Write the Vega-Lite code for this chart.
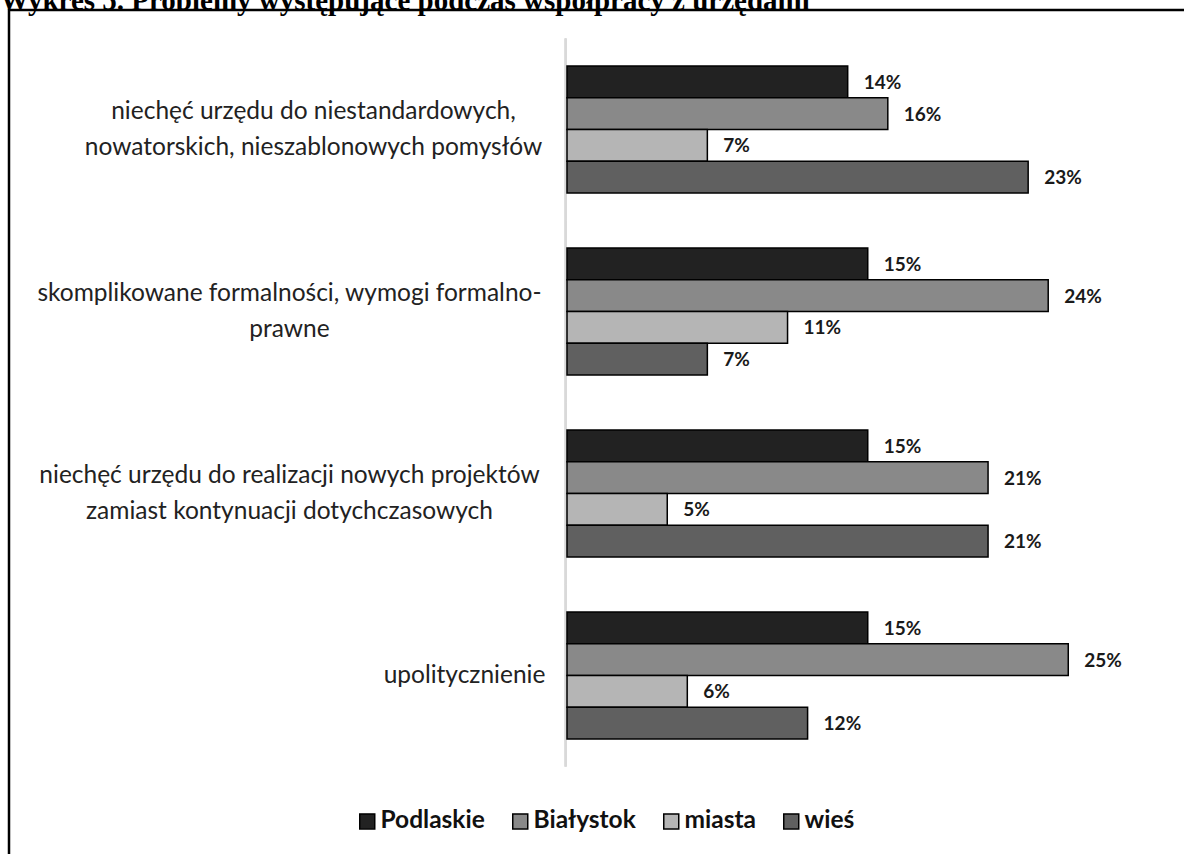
{
  "$schema": "https://vega.github.io/schema/vega-lite/v6.json",
  "width": 1195,
  "height": 864,
  "autosize": {"type": "none"},
  "padding": {"left": 9, "top": 10, "right": -20, "bottom": -20},
  "background": "white",
  "title": {
    "text": "Wykres 5. Problemy występujące podczas współpracy z urzędami",
    "anchor": "start",
    "frame": "group",
    "font": "Liberation Serif",
    "fontSize": 29,
    "fontWeight": "bold",
    "color": "black",
    "baseline": "alphabetic",
    "dx": -9,
    "offset": -29
  },
  "config": {
    "view": {"stroke": "black", "strokeWidth": 2.5},
    "font": "Lato"
  },
  "data": {
    "values": [
      {"cat": "niechęć urzędu do niestandardowych,|nowatorskich, nieszablonowych pomysłów", "series": "Podlaskie", "value": 0.14},
      {"cat": "niechęć urzędu do niestandardowych,|nowatorskich, nieszablonowych pomysłów", "series": "Białystok", "value": 0.16},
      {"cat": "niechęć urzędu do niestandardowych,|nowatorskich, nieszablonowych pomysłów", "series": "miasta", "value": 0.07},
      {"cat": "niechęć urzędu do niestandardowych,|nowatorskich, nieszablonowych pomysłów", "series": "wieś", "value": 0.23},
      {"cat": "skomplikowane formalności, wymogi formalno-|prawne", "series": "Podlaskie", "value": 0.15},
      {"cat": "skomplikowane formalności, wymogi formalno-|prawne", "series": "Białystok", "value": 0.24},
      {"cat": "skomplikowane formalności, wymogi formalno-|prawne", "series": "miasta", "value": 0.11},
      {"cat": "skomplikowane formalności, wymogi formalno-|prawne", "series": "wieś", "value": 0.07},
      {"cat": "niechęć urzędu do realizacji nowych projektów|zamiast kontynuacji dotychczasowych", "series": "Podlaskie", "value": 0.15},
      {"cat": "niechęć urzędu do realizacji nowych projektów|zamiast kontynuacji dotychczasowych", "series": "Białystok", "value": 0.21},
      {"cat": "niechęć urzędu do realizacji nowych projektów|zamiast kontynuacji dotychczasowych", "series": "miasta", "value": 0.05},
      {"cat": "niechęć urzędu do realizacji nowych projektów|zamiast kontynuacji dotychczasowych", "series": "wieś", "value": 0.21},
      {"cat": "upolitycznienie", "series": "Podlaskie", "value": 0.15},
      {"cat": "upolitycznienie", "series": "Białystok", "value": 0.25},
      {"cat": "upolitycznienie", "series": "miasta", "value": 0.06},
      {"cat": "upolitycznienie", "series": "wieś", "value": 0.12}
    ]
  },
  "encoding": {
    "y": {
      "field": "cat",
      "type": "nominal",
      "sort": null,
      "scale": {"paddingInner": 0.302, "paddingOuter": 0.5247, "align": 0.2933},
      "axis": {
        "title": null,
        "domain": false,
        "ticks": false,
        "tickSize": 0,
        "labelAlign": "center",
        "labelBaseline": "middle",
        "labelFont": "Lato",
        "labelFontSize": 24.5,
        "labelColor": "#222222",
        "labelLineHeight": 36,
        "labelLimit": 0,
        "labelBound": false,
        "labelExpr": "split(datum.value, '|')",
        "labelOffset": {
          "condition": {"test": "indexof(datum.value, '|') >= 0", "value": -18},
          "value": 0
        },
        "labelPadding": {
          "condition": [
            {"test": "datum.value == 'upolitycznienie'", "value": -455},
            {"test": "indexof(datum.value, 'niestandardowych') >= 0", "value": -304}
          ],
          "value": -280
        }
      }
    }
  },
  "layer": [
    {
      "mark": {"type": "bar", "height": {"band": 1.433}, "color": "#d9d9d9"},
      "encoding": {
        "x": {"datum": -0.0012, "type": "quantitative", "scale": {"domain": [-0.2783, 0.3177], "nice": false, "zero": false}, "axis": null},
        "x2": {"datum": -0.0002}
      }
    },
    {
      "mark": {"type": "bar", "stroke": "black", "strokeWidth": 1.5},
      "encoding": {
        "x": {"field": "value", "type": "quantitative", "scale": {"domain": [-0.2783, 0.3177], "nice": false, "zero": false}, "axis": null},
        "yOffset": {"field": "series", "type": "nominal", "sort": ["Podlaskie", "Białystok", "miasta", "wieś"], "scale": {"paddingInner": 0, "paddingOuter": 0}},
        "color": {
          "field": "series",
          "type": "nominal",
          "sort": ["Podlaskie", "Białystok", "miasta", "wieś"],
          "scale": {"domain": ["Podlaskie", "Białystok", "miasta", "wieś"], "range": ["#222222", "#898989", "#b5b5b5", "#606060"]},
          "legend": {
            "orient": "none",
            "legendX": 346,
            "legendY": 799,
            "direction": "horizontal",
            "columns": 4,
            "title": null,
            "symbolType": "square",
            "symbolSize": 225,
            "symbolStrokeColor": "black",
            "symbolStrokeWidth": 1.5,
            "symbolOpacity": 1,
            "labelFont": "Lato",
            "labelFontSize": 24.5,
            "labelFontWeight": "bold",
            "labelColor": "#111111",
            "labelOffset": 1,
            "columnPadding": 23
          }
        }
      }
    },
    {
      "mark": {"type": "text", "align": "left", "baseline": "middle", "dx": 16, "dy": 1, "fontWeight": "bold", "fontSize": 19, "font": "Lato", "color": "#1a1a1a"},
      "encoding": {
        "x": {"field": "value", "type": "quantitative", "scale": {"domain": [-0.2783, 0.3177], "nice": false, "zero": false}, "axis": null},
        "yOffset": {"field": "series", "type": "nominal", "sort": ["Podlaskie", "Białystok", "miasta", "wieś"]},
        "text": {"field": "value", "type": "quantitative", "format": ".0%"}
      }
    }
  ]
}
